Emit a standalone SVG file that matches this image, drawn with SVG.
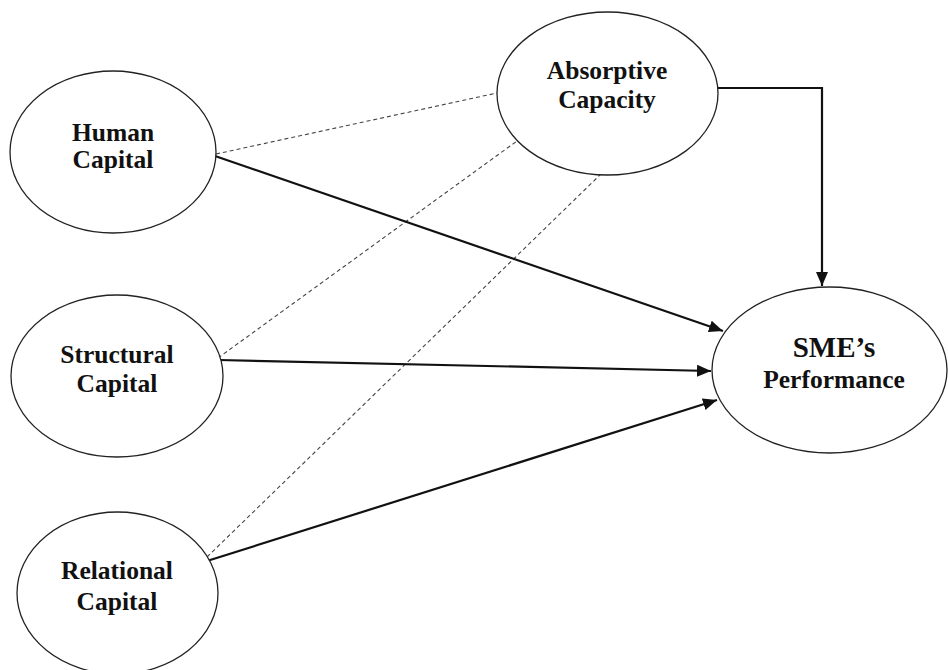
<svg xmlns="http://www.w3.org/2000/svg" width="948" height="670" viewBox="0 0 948 670">
<defs>
<style>
.node ellipse{fill:#fff;stroke:#222;stroke-width:1.3}
.lbl{font-family:"Liberation Serif","Times New Roman",serif;font-weight:bold;font-size:25.5px;fill:#111;text-anchor:middle}
.big{font-size:29px}
.solid{stroke:#111;stroke-width:2.2;fill:none}
.dash{stroke:#444;stroke-width:1.1;stroke-dasharray:4 3;fill:none}
</style>
<marker id="arr" markerUnits="userSpaceOnUse" markerWidth="14" markerHeight="12" viewBox="0 0 14 12" refX="14" refY="6" orient="auto">
<path d="M0,0 L14,6 L0,12 Z" fill="#111"/>
</marker>
</defs>
<rect width="948" height="670" fill="#fff"/>
<g id="connectors">
<line class="dash" x1="216" y1="154" x2="497" y2="93"/>
<line class="dash" x1="218" y1="358" x2="517" y2="141"/>
<line class="dash" x1="207" y1="557" x2="602" y2="173"/>
<line class="solid" x1="215" y1="156" x2="723" y2="331" marker-end="url(#arr)"/>
<line class="solid" x1="219" y1="360" x2="711" y2="371" marker-end="url(#arr)"/>
<line class="solid" x1="207" y1="561" x2="717" y2="400" marker-end="url(#arr)"/>
<polyline class="solid" points="718,88 822,88 822,286" marker-end="url(#arr)"/>
</g>
<g id="human" class="node">
<ellipse cx="113" cy="152" rx="103" ry="81"/>
<text class="lbl" x="113" y="141">Human</text>
<text class="lbl" x="113" y="168">Capital</text>
</g>
<g id="structural" class="node">
<ellipse cx="117" cy="376" rx="106" ry="81"/>
<text class="lbl" x="117" y="363">Structural</text>
<text class="lbl" x="117" y="392">Capital</text>
</g>
<g id="relational" class="node">
<ellipse cx="117.5" cy="593" rx="100.5" ry="81"/>
<text class="lbl" x="117" y="579">Relational</text>
<text class="lbl" x="117" y="610">Capital</text>
</g>
<g id="absorptive" class="node">
<ellipse cx="607.5" cy="93.5" rx="110.5" ry="81.5"/>
<text class="lbl" x="607" y="79">Absorptive</text>
<text class="lbl" x="607" y="108">Capacity</text>
</g>
<g id="sme" class="node">
<ellipse cx="829.5" cy="370" rx="117.5" ry="83"/>
<text class="lbl big" x="834" y="357">SME’s</text>
<text class="lbl" x="834" y="388">Performance</text>
</g>
</svg>
